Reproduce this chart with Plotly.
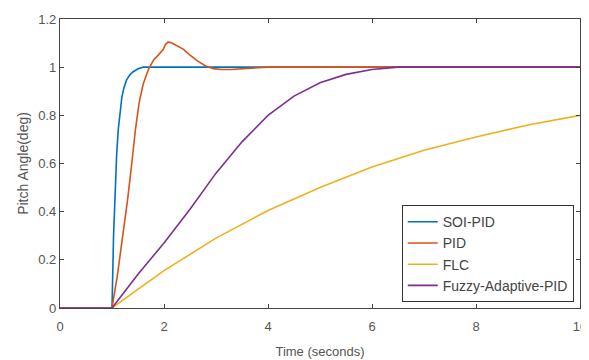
import plotly.graph_objects as go

# ---- data ----
t_soi = [0, 1.0, 1.03, 1.06, 1.09, 1.12, 1.15, 1.19, 1.23, 1.28, 1.34, 1.4, 1.5, 1.6, 10]
y_soi = [0, 0, 0.3, 0.5, 0.64, 0.74, 0.81, 0.876, 0.915, 0.947, 0.967, 0.98, 0.993, 1.0, 1.0]

t_pid = [0, 1.0, 1.1, 1.2, 1.3, 1.38, 1.45, 1.52, 1.6, 1.7, 1.8, 1.89, 1.96, 1.99, 2.03,
         2.08, 2.15, 2.25, 2.37, 2.5, 2.65, 2.8, 2.95, 3.1, 3.3, 3.6, 4.0, 10]
y_pid = [0, 0, 0.13, 0.28, 0.45, 0.6, 0.74, 0.85, 0.93, 0.99, 1.03, 1.05, 1.07, 1.075, 1.095,
         1.105, 1.1, 1.09, 1.075, 1.05, 1.025, 1.005, 0.994, 0.99, 0.99, 0.995, 1.0, 1.0]

t_flc = [0, 1, 2, 3, 4, 5, 6, 7, 8, 9, 10]
y_flc = [0, 0, 0.155, 0.29, 0.405, 0.5, 0.585, 0.655, 0.71, 0.76, 0.8]

t_fuz = [0, 1, 1.5, 2, 2.5, 3, 3.5, 4, 4.5, 5, 5.5, 6, 6.5, 7, 10]
y_fuz = [0, 0, 0.14, 0.27, 0.41, 0.56, 0.69, 0.8, 0.88, 0.935, 0.97, 0.99, 1.0, 1.0, 1.0]

names = ["SOI-PID", "PID", "FLC", "Fuzzy-Adaptive-PID"]
colors = ["#0072BD", "#D95319", "#EDB120", "#7E2F8E"]

x_ticks = [0, 2, 4, 6, 8, 10]
y_ticks = [0, 0.2, 0.4, 0.6, 0.8, 1, 1.2]
y_tick_text = ["0", "0.2", "0.4", "0.6", "0.8", "1", "1.2"]

fig = go.Figure()
for t, y, n, c in zip([t_soi, t_pid, t_flc, t_fuz], [y_soi, y_pid, y_flc, y_fuz], names, colors):
    fig.add_trace(go.Scatter(x=t, y=y, mode="lines", name=n,
                             line=dict(color=c, width=1.6)))

FONT = "Liberation Sans, Arial, sans-serif"
axis_common = dict(
    showgrid=False, zeroline=False, showline=True, linecolor="#444444", linewidth=1.2,
    mirror="ticks", ticks="inside", ticklen=4, tickcolor="#444444",
    tickfont=dict(family=FONT, size=13, color="#555555"),
    automargin=False, ticklabeloverflow="allow",
)

# the page body adds an 8px offset, so the figure is sized to fit the 589x360 window
fig.update_layout(
    template="none",
    width=581, height=352,
    margin=dict(l=52, r=9, t=11, b=52),
    paper_bgcolor="white", plot_bgcolor="white",
    font=dict(family=FONT, color="#555555"),
    xaxis=dict(range=[0, 10], tickvals=x_ticks, ticklabelstandoff=6,
               title=dict(text="Time (seconds)", font=dict(size=13, color="#555555"), standoff=14),
               **axis_common),
    yaxis=dict(range=[0, 1.2], tickvals=y_ticks, ticktext=y_tick_text,
               title=dict(text="Pitch Angle(deg)", font=dict(size=14, color="#555555"), standoff=6),
               **axis_common),
    legend=dict(x=0.988, y=0.02, xanchor="right", yanchor="bottom",
                bgcolor="white", bordercolor="#333333", borderwidth=1,
                font=dict(size=14, color="#444444"), itemwidth=30,
                tracegroupgap=0),
    showlegend=True,
)

fig.write_html("out.html")
